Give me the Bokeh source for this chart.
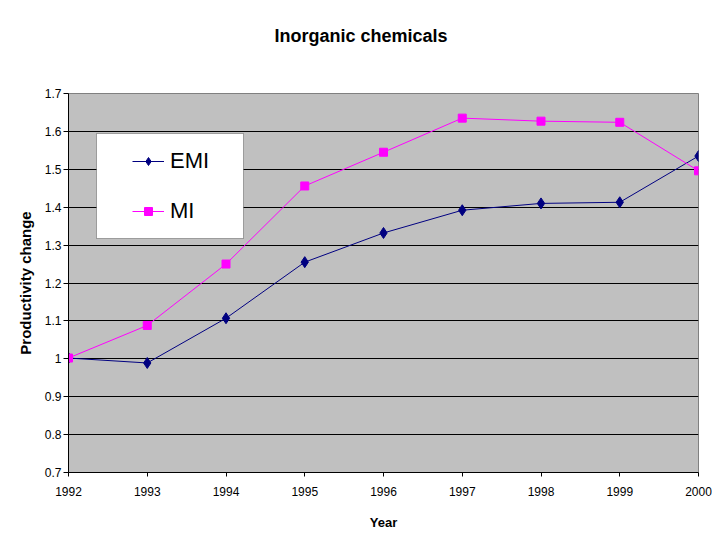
from bokeh.plotting import figure
from bokeh.models import (Range1d, FixedTicker, CustomJSTickFormatter, Legend, LegendItem,
                          BoxAnnotation)
from bokeh.embed import file_html
from bokeh.resources import INLINE

years = [1992, 1993, 1994, 1995, 1996, 1997, 1998, 1999, 2000]
emi = [1.002, 0.989, 1.107, 1.255, 1.332, 1.392, 1.410, 1.413, 1.535]
mi = [1.002, 1.088, 1.250, 1.456, 1.545, 1.635, 1.627, 1.624, 1.496]
y_ticks = [0.7, 0.8, 0.9, 1.0, 1.1, 1.2, 1.3, 1.4, 1.5, 1.6, 1.7]

FONT = "Liberation Sans"

p = figure(width=712, height=532, output_backend="svg", toolbar_location=None,
           x_range=Range1d(1992, 2000), y_range=Range1d(0.7, 1.7),
           min_border_left=68, min_border_right=14, min_border_top=93, min_border_bottom=59)
p.background_fill_color = "#C0C0C0"
p.border_fill_color = "white"
p.outline_line_color = "#808080"
p.outline_line_width = 1

p.title.text = "Inorganic chemicals\n \n "
p.title.align = "left"
p.title.vertical_align = "top"
p.title.offset = 206
p.title.standoff = 12
p.title.text_font = FONT
p.title.text_font_size = "18px"
p.title.text_font_style = "bold"
p.title.text_color = "black"

p.xgrid.visible = False
p.ygrid.ticker = FixedTicker(ticks=y_ticks)
p.ygrid.grid_line_color = "black"
p.ygrid.grid_line_width = 1

p.xaxis.ticker = FixedTicker(ticks=years)
p.yaxis.ticker = FixedTicker(ticks=y_ticks)
p.yaxis.formatter = CustomJSTickFormatter(code="return (Math.round(tick*10)/10).toString();")

for ax in (p.xaxis[0], p.yaxis[0]):
    ax.axis_line_color = "black"
    ax.major_tick_line_color = "black"
    ax.minor_tick_line_color = None
    ax.major_tick_in = 0
    ax.major_label_text_font = FONT
    ax.major_label_text_font_size = "12px"
    ax.major_label_text_color = "black"
    ax.axis_label_text_font = FONT
    ax.axis_label_text_font_style = "bold"
    ax.axis_label_text_color = "black"

p.xaxis.major_tick_out = 4
p.yaxis.major_tick_out = 5
p.xaxis.major_label_standoff = 10
p.yaxis.major_label_standoff = 2
p.xaxis.axis_label = "Year"
p.yaxis.axis_label = "Productivity change"
p.xaxis.axis_label_text_font_size = "13px"
p.yaxis.axis_label_text_font_size = "15px"
p.xaxis.axis_label_standoff = 16
p.yaxis.axis_label_standoff = 8

l1 = p.line(years, emi, line_color="#000080", line_width=1)
s1 = p.scatter(years, emi, marker="diamond", size=11, fill_color="#000080", line_color="#000080")
l2 = p.line(years, mi, line_color="#FF00FF", line_width=1)
s2 = p.scatter(years, mi, marker="square", size=8, fill_color="#FF00FF", line_color="#FF00FF")

box = BoxAnnotation(left=28, right=175, top=339, bottom=234,
                    left_units="screen", right_units="screen", top_units="screen", bottom_units="screen",
                    fill_color="white", fill_alpha=1.0, line_color="black", line_width=1, level="annotation")
p.add_layout(box)

legend = Legend(items=[LegendItem(label="EMI", renderers=[l1, s1]),
                       LegendItem(label="MI", renderers=[l2, s2])],
                location=(64, 248), padding=0, margin=0, spacing=24,
                glyph_width=32, glyph_height=20, label_height=20, label_standoff=6,
                label_text_font=FONT, label_text_font_size="22px", label_text_color="black",
                border_line_color=None, background_fill_alpha=0.0)
p.add_layout(legend)

open("out.html", "w").write(file_html(p, INLINE))
